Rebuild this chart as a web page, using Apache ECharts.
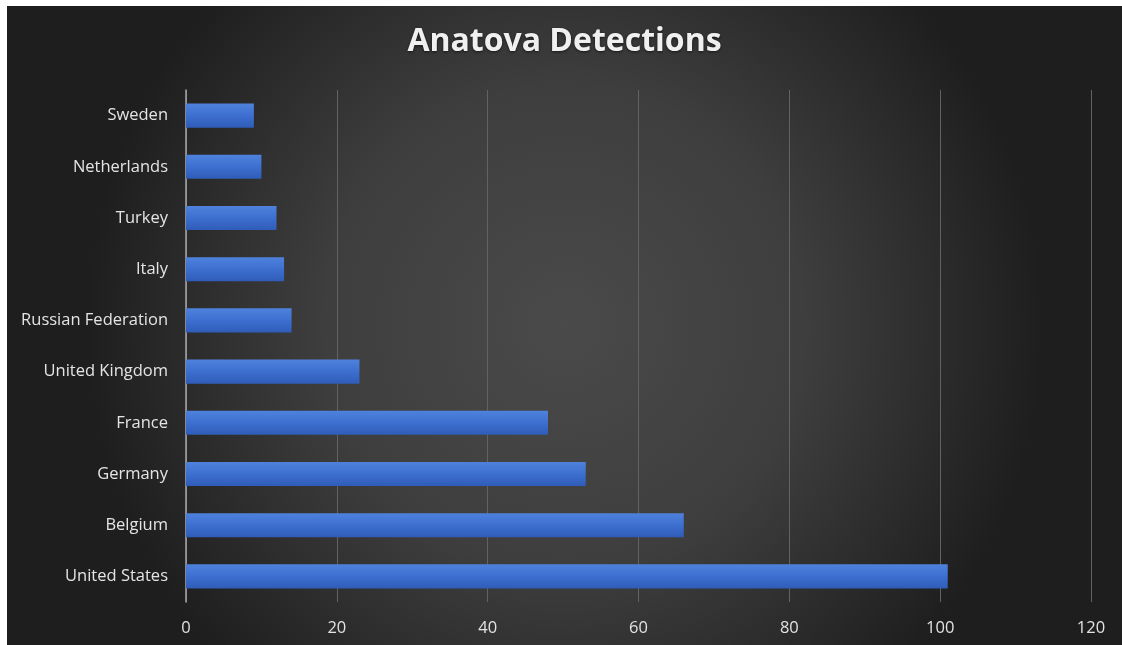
<!DOCTYPE html>
<html>
<head>
<meta charset="utf-8">
<script src="https://cdn.jsdelivr.net/npm/echarts@6/dist/echarts.min.js"></script>
<style>
html,body{margin:0;padding:0;background:#ffffff;width:1122px;height:645px;overflow:hidden;}
#chart{position:absolute;left:7px;top:6px;width:1115px;height:639px;}
</style>
</head>
<body>
<div id="chart"></div>
<script>
const categories = ["United States","Belgium","Germany","France","United Kingdom","Russian Federation","Italy","Turkey","Netherlands","Sweden"];
const detections = [101, 66, 53, 48, 23, 14, 13, 12, 10, 9];
const titleText = "Anatova Detections";

const chart = echarts.init(document.getElementById('chart'));
chart.setOption({
  backgroundColor: {
    type: 'radial', x: 0.5, y: 0.5, r: 0.75,
    colorStops: [
      {offset: 0, color: '#4a4a4a'},
      {offset: 0.5, color: '#3e3e3e'},
      {offset: 1, color: '#1e1e1e'}
    ]
  },
  title: {
    text: titleText,
    left: 'center',
    top: 15,
    textStyle: {
      color: '#f0f0f0',
      fontFamily: 'Open Sans',
      fontWeight: 'bold',
      fontSize: 32,
      textShadowColor: 'rgba(0,0,0,0.6)',
      textShadowBlur: 3,
      textShadowOffsetY: 1
    }
  },
  grid: {left: 179, right: 31, top: 84, bottom: 43, containLabel: false},
  xAxis: {
    type: 'value',
    min: 0, max: 120, interval: 20,
    axisLine: {show: false},
    axisTick: {show: false},
    axisLabel: {color: '#e2e2e2', fontFamily: 'Open Sans', fontSize: 16.5, margin: 18},
    splitLine: {lineStyle: {color: '#626262', width: 1}}
  },
  yAxis: {
    type: 'category',
    data: categories,
    axisLine: {show: true, lineStyle: {color: '#a8a8a8', width: 1.5}},
    axisTick: {show: false},
    axisLabel: {color: '#e4e4e4', fontFamily: 'Open Sans', fontSize: 16.5, margin: 18}
  },
  series: [{
    type: 'bar',
    data: detections,
    barWidth: '47%',
    itemStyle: {
      color: {
        type: 'linear', x: 0, y: 0, x2: 0, y2: 1,
        colorStops: [
          {offset: 0, color: '#4f82dc'},
          {offset: 0.5, color: '#3d6fd0'},
          {offset: 1, color: '#2f5cb8'}
        ]
      },
      shadowColor: 'rgba(0,0,0,0.55)',
      shadowBlur: 4,
      shadowOffsetY: 3,
      shadowOffsetX: 1
    }
  }]
});
</script>
</body>
</html>
